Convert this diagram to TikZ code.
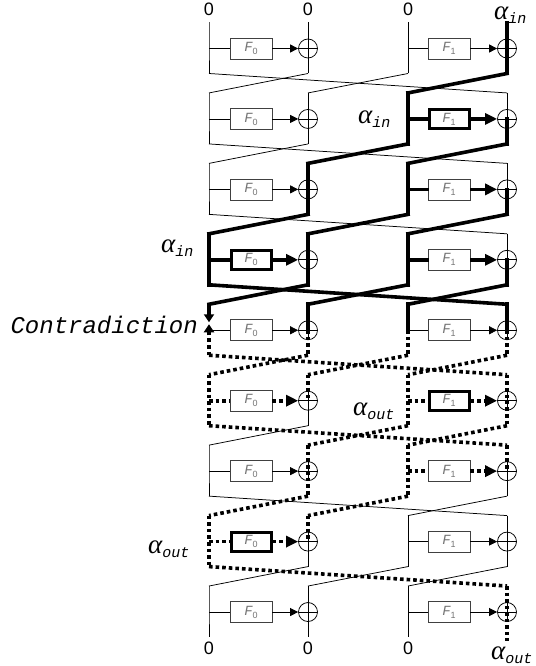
\documentclass[tikz,border=0pt]{standalone}
\usepackage{fontspec}
\setmainfont{Liberation Sans}
\newfontfamily\monofam{Liberation Mono}
\newfontfamily\seriffam{Liberation Serif}
\usetikzlibrary{arrows.meta}
\newcommand{\alab}[1]{{\fontsize{27}{27}\seriffam\itshape α}\raisebox{-4pt}{\fontsize{15}{15}\monofam\itshape #1}}
\newcommand{\flab}[1]{{\fontsize{14}{14}\monofam\itshape F}\raisebox{-3pt}{\fontsize{9}{9}\selectfont #1}}
\begin{document}
\begin{tikzpicture}[x=1pt,y=-1pt,
 tn/.style={line width=0.75pt},
 tk/.style={line width=3.6pt, line cap=rect},
 dt/.style={line width=3.6pt, dash pattern=on 3.6pt off 3pt},
 fb/.style={draw=black!75, line width=0.75pt, minimum width=42pt, minimum height=21pt, inner sep=0pt, text=black!55},
 fbk/.style={fb, draw=black, line width=3pt, minimum width=40pt, minimum height=19pt},
 xr/.style={circle, draw, line width=0.75pt, minimum size=19pt, inner sep=0pt,
   path picture={\draw[line width=0.75pt] (path picture bounding box.west) -- (path picture bounding box.east)
   (path picture bounding box.north) -- (path picture bounding box.south);}},
 atn/.style={tn, -{Triangle[length=8pt,width=8pt]}},
 atk/.style={line width=3.6pt, -{Triangle[length=12pt,width=11pt]}},
 adt/.style={dt, -{Triangle[length=12pt,width=11pt]}},
 zlab/.style={inner sep=0pt, font=\fontsize{18}{18}\selectfont},
 alpha/.style={anchor=base west, inner sep=0pt}
]
\useasboundingbox (0,0) rectangle (535,666);
% geometry
\foreach \r in {0,...,8}{
  \pgfmathsetmacro\yc{48.5+70.44*\r}
  \foreach \b/\xx in {0/209,1/308,2/408,3/507}{
    \coordinate (t\r-\b) at (\xx,{\yc-26});
    \coordinate (m\r-\b) at (\xx,\yc);
    \coordinate (b\r-\b) at (\xx,{\yc+25});
  }
  \node[xr] (x\r-1) at (308,\yc) {};
  \node[xr] (x\r-3) at (507,\yc) {};
}
% F boxes
\foreach \r in {0,1,2,4,5,6,8} \node[fb] (f\r-0) at (251,{48.5+70.44*\r}) {\flab{0}};
\foreach \r in {3,7} \node[fbk] (f\r-0) at (251,{48.5+70.44*\r}) {\flab{0}};
\foreach \r in {0,2,3,4,6,7,8} \node[fb] (f\r-1) at (449,{48.5+70.44*\r}) {\flab{1}};
\foreach \r in {1,5} \node[fbk] (f\r-1) at (449,{48.5+70.44*\r}) {\flab{1}};
% branch 0
\foreach \r in {0,1,2,6,8} \draw[tn] (t\r-0) -- (m\r-0) -- (b\r-0);
\foreach \r in {3} \draw[tk] (t\r-0) -- (b\r-0);
\foreach \r in {5,7} \draw[dt] (t\r-0) -- (b\r-0);
\coordinate (ca) at (209,{48.5+70.44*4-8});
\coordinate (cb) at (209,{48.5+70.44*4-6});
\draw[line width=3.6pt, -{Triangle[length=8pt,width=10pt]}] (t4-0) -- (ca);
\draw[dt, -{Triangle[length=8pt,width=10pt]}] (b4-0) -- (cb);
% branch 1
\foreach \r in {0,1,8} \draw[tn] (t\r-1) -- (m\r-1);
\foreach \r in {2,3,4} \draw[tk] (t\r-1) -- (m\r-1);
\foreach \r in {5,6,7} \draw[dt] (t\r-1) -- (m\r-1);
\foreach \r in {0,1,5,7,8} \draw[tn] (m\r-1) -- (b\r-1);
\foreach \r in {2,3} \draw[tk] (m\r-1) -- (b\r-1);
\foreach \r in {4,6} \draw[dt] (m\r-1) -- (b\r-1);
% branch 2
\foreach \r in {0,7,8} \draw[tn] (t\r-2) -- (b\r-2);
\foreach \r in {1,2,3} \draw[tk] (t\r-2) -- (b\r-2);
\foreach \r in {4} \draw[tk] (t\r-2) -- (m\r-2);
\foreach \r in {4} \draw[dt] (m\r-2) -- (b\r-2);
\foreach \r in {5,6} \draw[dt] (t\r-2) -- (b\r-2);
% branch 3
\foreach \r in {1,2,3,7} \draw[tn] (t\r-3) -- (m\r-3);
\foreach \r in {0,4} \draw[tk] (t\r-3) -- (m\r-3);
\foreach \r in {5,6,8} \draw[dt] (t\r-3) -- (m\r-3);
\foreach \r in {6,7} \draw[tn] (m\r-3) -- (b\r-3);
\foreach \r in {0,1,2,3} \draw[tk] (m\r-3) -- (b\r-3);
\foreach \r in {4,5} \draw[dt] (m\r-3) -- (b\r-3);
\coordinate (e8-3) at (507,641);
\draw[dt] (m8-3) -- (e8-3);
% F0 lines and arrows
\foreach \r in {0,1,2,4,6,8} \draw[tn] (m\r-0) -- (f\r-0.west);
\foreach \r in {0,1,2,4,6,8} \draw[atn] (f\r-0.east) -- (x\r-1.west);
\foreach \r in {3} \draw[tk] (m\r-0) -- (f\r-0.west);
\foreach \r in {3} \draw[atk] (f\r-0.east) -- (x\r-1.west);
\foreach \r in {5,7} \draw[dt] (m\r-0) -- (f\r-0.west);
\foreach \r in {5,7} \draw[adt] (f\r-0.east) -- (x\r-1.west);
% F1 lines and arrows
\foreach \r in {0,4,7,8} \draw[tn] (m\r-2) -- (f\r-1.west);
\foreach \r in {0,4,7,8} \draw[atn] (f\r-1.east) -- (x\r-3.west);
\foreach \r in {1,2,3} \draw[tk] (m\r-2) -- (f\r-1.west);
\foreach \r in {1,2,3} \draw[atk] (f\r-1.east) -- (x\r-3.west);
\foreach \r in {5,6} \draw[dt] (m\r-2) -- (f\r-1.west);
\foreach \r in {5,6} \draw[adt] (f\r-1.east) -- (x\r-3.west);
% diagonals (round r to r+1): D0 b0->t3, D1 b1->t0, D2 b2->t1, D3 b3->t2
\foreach \r [evaluate=\r as \n using int(\r+1)] in {0,1,2,6} \draw[tn] (b\r-0) -- (t\n-3);
\foreach \r [evaluate=\r as \n using int(\r+1)] in {3} \draw[tk] (b\r-0) -- (t\n-3);
\foreach \r [evaluate=\r as \n using int(\r+1)] in {4,5,7} \draw[dt] (b\r-0) -- (t\n-3);
\foreach \r [evaluate=\r as \n using int(\r+1)] in {0,1,5,7} \draw[tn] (b\r-1) -- (t\n-0);
\foreach \r [evaluate=\r as \n using int(\r+1)] in {2,3} \draw[tk] (b\r-1) -- (t\n-0);
\foreach \r [evaluate=\r as \n using int(\r+1)] in {4,6} \draw[dt] (b\r-1) -- (t\n-0);
\foreach \r [evaluate=\r as \n using int(\r+1)] in {0,7} \draw[tn] (b\r-2) -- (t\n-1);
\foreach \r [evaluate=\r as \n using int(\r+1)] in {1,2,3} \draw[tk] (b\r-2) -- (t\n-1);
\foreach \r [evaluate=\r as \n using int(\r+1)] in {4,5,6} \draw[dt] (b\r-2) -- (t\n-1);
\foreach \r [evaluate=\r as \n using int(\r+1)] in {6,7} \draw[tn] (b\r-3) -- (t\n-2);
\foreach \r [evaluate=\r as \n using int(\r+1)] in {0,1,2,3} \draw[tk] (b\r-3) -- (t\n-2);
\foreach \r [evaluate=\r as \n using int(\r+1)] in {4,5} \draw[dt] (b\r-3) -- (t\n-2);
% labels
\node[zlab] (z0) at (209,9) {0};
\node[zlab] (z1) at (308,9) {0};
\node[zlab] (z2) at (408,9) {0};
\node[zlab] (w0) at (209,648) {0};
\node[zlab] (w1) at (308,648) {0};
\node[zlab] (w2) at (408,648) {0};
\node[alpha] (ain0) at (494,20) {\alab{in}};
\node[alpha] (ain1) at (358,124) {\alab{in}};
\node[alpha] (ain3) at (161,252) {\alab{in}};
\node[alpha] (aout5) at (353,415) {\alab{out}};
\node[alpha] (aout7) at (148,553) {\alab{out}};
\node[alpha] (aout8) at (491,659) {\alab{out}};
\node[anchor=base east, inner sep=0pt, font=\fontsize{24}{24}\monofam\itshape] (contra) at (198,333) {Contradiction};
\end{tikzpicture}
\end{document}
